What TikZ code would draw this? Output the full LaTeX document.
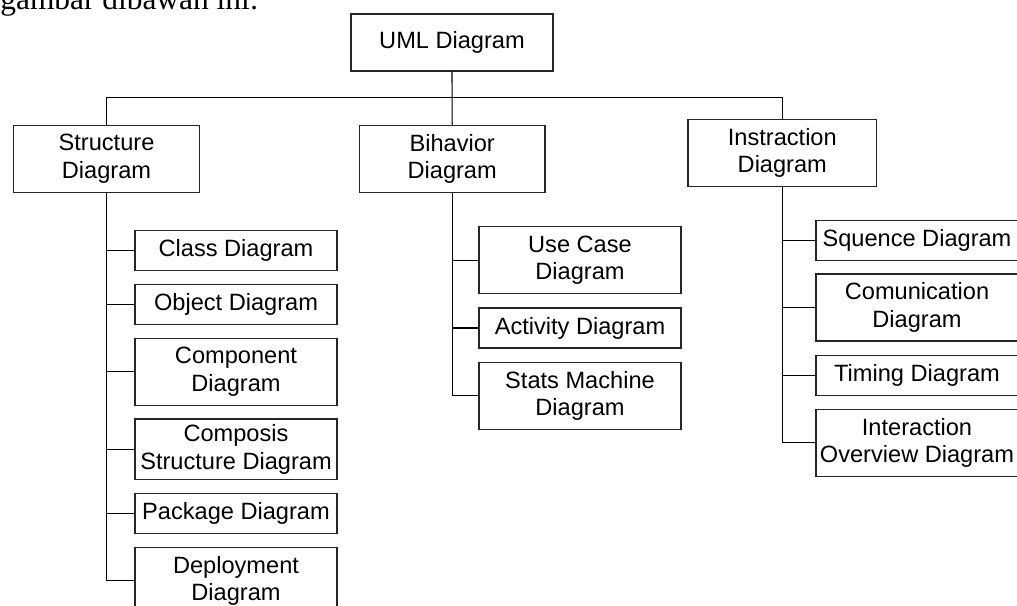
\documentclass[tikz,border=0pt]{standalone}
\usepackage{fontspec}
\setmainfont{Liberation Sans}
\newfontfamily\captionfont{Liberation Serif}
\usepackage{xcolor}

\tikzset{
  diagbox/.style={draw=black!85, line width=0.55pt, align=center, inner sep=0pt,
    font=\fontsize{11.8}{13.7}\selectfont},
  leafbox/.style={diagbox, minimum width=101pt},
  onerow/.style={minimum height=20pt},
  tworow/.style={minimum height=33.5pt},
  link/.style={draw=black, line width=0.55pt}
}

\begin{document}
\begin{tikzpicture}[x=0.5pt,y=-0.5pt]
  \useasboundingbox (0,0) rectangle (1017,605);
  \node[anchor=base west, inner sep=0pt, font=\captionfont\fontsize{15.7}{18}\selectfont] (intro) at (0,9.3) {gambar dibawah ini:};

  % top and second level
  \node[diagbox, minimum width=101pt, minimum height=28.5pt] (uml) at (452,42.5) {UML Diagram};
  \node[diagbox, minimum width=93pt, minimum height=33.6pt] (struct) at (106.5,158.7) {Structure\\Diagram};
  \node[diagbox, minimum width=92.8pt, minimum height=33.8pt] (behav) at (452.2,158.9) {Bihavior\\Diagram};
  \node[diagbox, minimum width=94.3pt, minimum height=33.6pt] (inter) at (782.3,152.7) {Instraction\\Diagram};

  % structure diagrams
  \node[leafbox, onerow] (class) at (236,250.5) {Class Diagram};
  \node[leafbox, onerow] (object) at (236,304.3) {Object Diagram};
  \node[leafbox, tworow] (component) at (236,371.8) {Component\\Diagram};
  \node[leafbox, minimum height=30.2pt] (composite) at (236,449.2) {Composis\\Structure Diagram};
  \node[leafbox, onerow] (package) at (236,513.3) {Package Diagram};
  \node[leafbox, tworow] (deploy) at (236,580.7) {Deployment\\Diagram};

  % behavior diagrams
  \node[leafbox, tworow] (usecase) at (580,260.3) {Use Case\\Diagram};
  \node[leafbox, onerow] (activity) at (580,328) {Activity Diagram};
  \node[leafbox, tworow] (statemach) at (580,395.7) {Stats Machine\\Diagram};

  % interaction diagrams
  \node[leafbox, onerow] (sequence) at (917,240.5) {Squence Diagram};
  \node[leafbox, tworow] (commun) at (917,307.5) {Comunication\\Diagram};
  \node[leafbox, onerow] (timing) at (917,375.3) {Timing Diagram};
  \node[leafbox, tworow] (overview) at (917,442.8) {Interaction\\Overview Diagram};

  % connectors
  \coordinate (bus) at (452,97.3);
  \draw[link] (uml.south) -- (behav.north);
  \draw[link] (struct.north) |- (bus) -| (inter.north);
  \foreach \leaf in {class,object,component,composite,package,deploy}
    \draw[link] (struct.south) |- (\leaf.west);
  \foreach \leaf in {usecase,activity,statemach}
    \draw[link] (behav.south) |- (\leaf.west);
  \foreach \leaf in {sequence,commun,timing,overview}
    \draw[link] (inter.south) |- (\leaf.west);
\end{tikzpicture}
\end{document}
